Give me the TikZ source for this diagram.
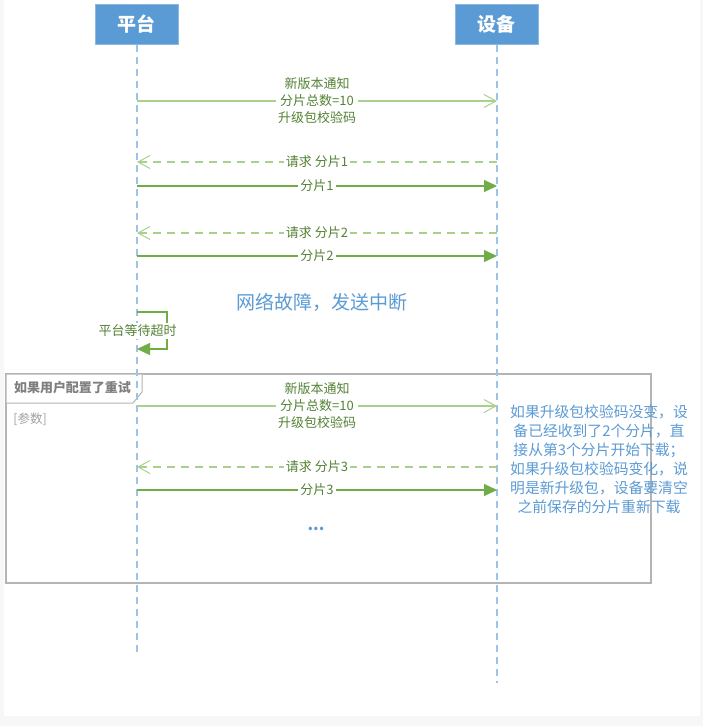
\documentclass[tikz,border=0pt]{standalone}
\usepackage{fontspec}
\setmainfont{Noto Sans CJK SC}
\usetikzlibrary{arrows.meta}
\definecolor{pagegray}{HTML}{F7F7F7}
\definecolor{boxblue}{HTML}{5B9BD5}
\definecolor{boxedge}{HTML}{8DB8E2}
\definecolor{lifeblue}{HTML}{9DC3E6}
\definecolor{lightgreen}{HTML}{A9D18E}
\definecolor{midgreen}{HTML}{70AD47}
\definecolor{textgreen}{HTML}{548235}
\definecolor{noteblue}{HTML}{5B9BD5}
\definecolor{framegray}{HTML}{B4B4B4}
\definecolor{tabtext}{HTML}{7F7F7F}
\tikzset{
  actor/.style={rectangle, fill=boxblue, draw=boxedge, line width=0.8pt,
    minimum width=83pt, minimum height=40pt, text=white,
    font=\fontsize{19}{21}\selectfont\bfseries},
  lifeline/.style={draw=lifeblue, line width=1.3pt, dash pattern=on 7pt off 5pt},
  asyncmsg/.style={draw=lightgreen, line width=1.3pt,
    -{Straight Barb[length=12pt,width=13pt,line width=1pt]}},
  replymsg/.style={draw=lightgreen, line width=1.3pt, dash pattern=on 8pt off 6pt,
    -{Straight Barb[length=12pt,width=13pt,line width=1pt]}},
  syncmsg/.style={draw=midgreen, line width=1.2pt,
    -{Triangle[length=13pt,width=12pt]}},
  msglabel/.style={fill=white, inner sep=2pt, text=textgreen, align=center,
    font=\fontsize{13}{17}\selectfont},
  bluetext/.style={text=noteblue, align=center},
}
\begin{document}
\begin{tikzpicture}[x=1pt,y=-1pt]
\fill[pagegray] (0,0) rectangle (703,726);
\fill[white] (4,0) rectangle (700,716);
\useasboundingbox (0,0) rectangle (703,726);

% frame
\draw[framegray, line width=1.2pt] (6,374) rectangle (651,583);
\draw[framegray, line width=1pt, fill=white] (6,374) -- (142,374) -- (142,392) -- (133,403) -- (6,403) -- cycle;
\node[text=tabtext, font=\fontsize{13}{15}\selectfont\bfseries] (tab) at (72.5,388) {如果用户配置了重试};
\node[text=framegray!90!black, font=\fontsize{12.5}{14}\selectfont] (param) at (30,419) {[参数]};

% actors
\node[actor] (pt) at (136.5,24.5) {平台};
\node[actor] (sb) at (496.5,24.5) {设备};

% lifelines
\coordinate (ptend) at (137,653);
\coordinate (sbend) at (497,683);
\draw[lifeline] (pt.south -| ptend) -- (ptend);
\draw[lifeline] (sb.south -| sbend) -- (sbend);

% message 1
\coordinate (a1) at (137,101); \coordinate (b1) at (497,101);
\draw[asyncmsg] (a1) -- (b1);
\node[msglabel] (m1) at (317,101) {新版本通知\\分片总数=10\\升级包校验码};

% request 1
\coordinate (a2) at (137,162); \coordinate (b2) at (497,162);
\draw[replymsg] (b2) -- (a2);
\node[msglabel] (m2) at (317,162) {请求 分片1};

\coordinate (a3) at (137,186); \coordinate (b3) at (497,186);
\draw[syncmsg] (a3) -- (b3);
\node[msglabel] (m3) at (317,186) {分片1};

\coordinate (a4) at (137,233); \coordinate (b4) at (497,233);
\draw[replymsg] (b4) -- (a4);
\node[msglabel] (m4) at (317,233) {请求 分片2};

\coordinate (a5) at (137,256); \coordinate (b5) at (497,256);
\draw[syncmsg] (a5) -- (b5);
\node[msglabel] (m5) at (317,256) {分片2};

% network failure
\node[bluetext, font=\fontsize{19}{21}\selectfont] (fail) at (322,302) {网络故障，发送中断};

% self loop
\coordinate (s1) at (137,312); \coordinate (s2) at (167,312);
\coordinate (s3) at (167,349); \coordinate (s4) at (137,349);
\draw[syncmsg] (s1) -- (s2) -- (s3) -- (s4);
\node[msglabel] (wait) at (137.5,331) {平台等待超时};

% retry block
\coordinate (a6) at (137,406); \coordinate (b6) at (497,406);
\draw[asyncmsg] (a6) -- (b6);
\node[msglabel] (m6) at (317,406) {新版本通知\\分片总数=10\\升级包校验码};

\coordinate (a7) at (137,467); \coordinate (b7) at (497,467);
\draw[replymsg] (b7) -- (a7);
\node[msglabel] (m7) at (317,467) {请求 分片3};

\coordinate (a8) at (137,490); \coordinate (b8) at (497,490);
\draw[syncmsg] (a8) -- (b8);
\node[msglabel] (m8) at (317,490) {分片3};

\node[bluetext, font=\fontsize{16}{16}\selectfont\bfseries] (dots) at (316,529) {...};

% note
\node[bluetext, font=\fontsize{14.8}{19}\selectfont] (note) at (599,459)
  {如果升级包校验码没变，设\\备已经收到了2个分片，直\\接从第3个分片开始下载；\\如果升级包校验码变化，说\\明是新升级包，设备要清空\\之前保存的分片重新下载};
\end{tikzpicture}
\end{document}
